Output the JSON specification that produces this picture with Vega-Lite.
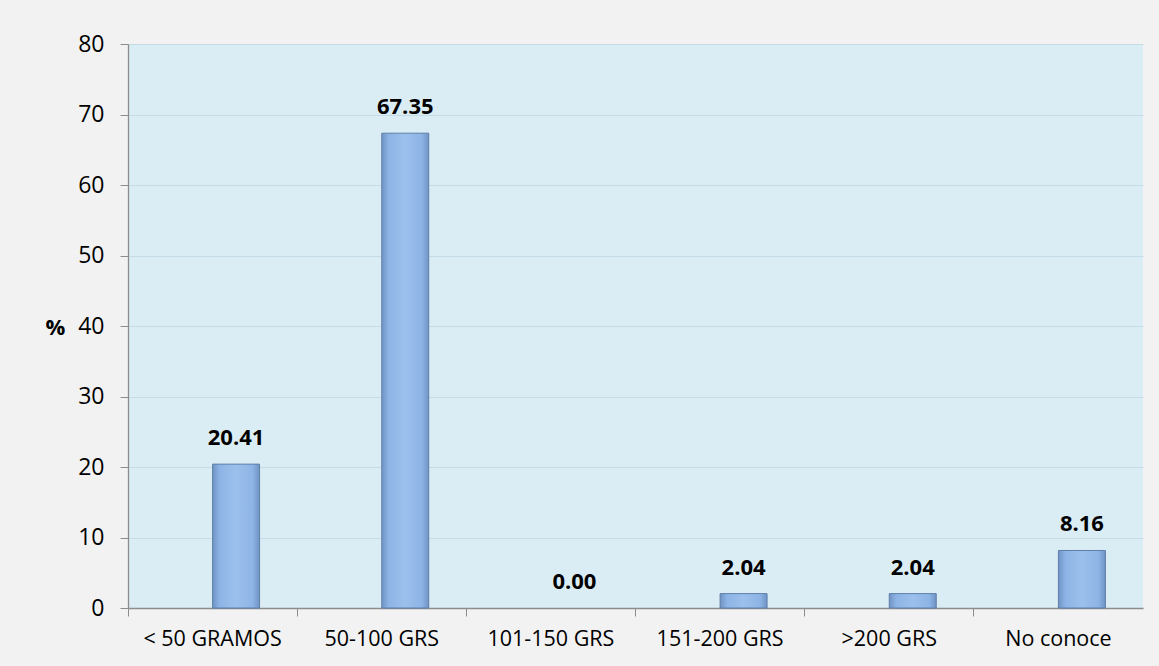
{
  "$schema": "https://vega.github.io/schema/vega-lite/v6.json",
  "autosize": "none",
  "width": 1015,
  "height": 564,
  "padding": {"left": 128, "top": 44, "right": 16, "bottom": 58},
  "background": "#f2f2f2",
  "config": {
    "view": {"fill": "#dbedf4", "stroke": null},
    "font": "Open Sans"
  },
  "data": {
    "values": [
      {"cat": "< 50 GRAMOS", "serie": "pct", "valor": 20.41},
      {"cat": "50-100 GRS", "serie": "pct", "valor": 67.35},
      {"cat": "101-150 GRS", "serie": "pct", "valor": 0.0},
      {"cat": "151-200 GRS", "serie": "pct", "valor": 2.04},
      {"cat": ">200 GRS", "serie": "pct", "valor": 2.04},
      {"cat": "No conoce", "serie": "pct", "valor": 8.16}
    ]
  },
  "encoding": {
    "x": {
      "field": "cat",
      "type": "nominal",
      "sort": null,
      "scale": {"paddingInner": 0, "paddingOuter": 0},
      "axis": {
        "title": null,
        "labelAngle": 0,
        "labelFontSize": 21.5,
        "labelColor": "#000000",
        "labelPadding": 12,
        "domainColor": "#8c8c8c",
        "domainWidth": 1.3,
        "tickColor": "#8c8c8c",
        "tickSize": 8,
        "bandPosition": 0,
        "grid": false
      }
    },
    "xOffset": {
      "field": "serie",
      "type": "nominal",
      "scale": {"domain": ["vacio", "pct"], "paddingInner": 0, "paddingOuter": 0.8}
    },
    "y": {
      "field": "valor",
      "type": "quantitative",
      "scale": {"domain": [0, 80], "nice": false},
      "axis": {
        "title": "%",
        "titleAngle": 0,
        "titleFontSize": 22,
        "titleFontWeight": "bold",
        "titleColor": "#000000",
        "titleAlign": "center",
        "titleBaseline": "middle",
        "titleX": -73,
        "titleY": 283,
        "values": [0, 10, 20, 30, 40, 50, 60, 70, 80],
        "labelFontSize": 23,
        "labelColor": "#000000",
        "labelPadding": 16,
        "domainColor": "#8c8c8c",
        "domainWidth": 1.3,
        "tickColor": "#8c8c8c",
        "tickSize": 8,
        "gridColor": "#c3dce8",
        "gridWidth": 1.2
      }
    }
  },
  "layer": [
    {
      "mark": {
        "type": "bar",
        "stroke": "#5f7fa8",
        "strokeWidth": 1,
        "color": {
          "gradient": "linear",
          "x1": 0, "y1": 0, "x2": 1, "y2": 0,
          "stops": [
            {"offset": 0, "color": "#6f93c4"},
            {"offset": 0.15, "color": "#8db4e6"},
            {"offset": 0.5, "color": "#9cc0ec"},
            {"offset": 0.85, "color": "#8db4e6"},
            {"offset": 1, "color": "#6f93c4"}
          ]
        }
      },
      "encoding": {
        "strokeOpacity": {"condition": {"test": "datum.valor == 0", "value": 0}, "value": 1}
      }
    },
    {
      "mark": {
        "type": "text",
        "baseline": "alphabetic",
        "dy": -19,
        "fontSize": 22,
        "fontWeight": "bold",
        "color": "#000000"
      },
      "encoding": {
        "text": {"field": "valor", "type": "quantitative", "format": ".2f"}
      }
    }
  ]
}
